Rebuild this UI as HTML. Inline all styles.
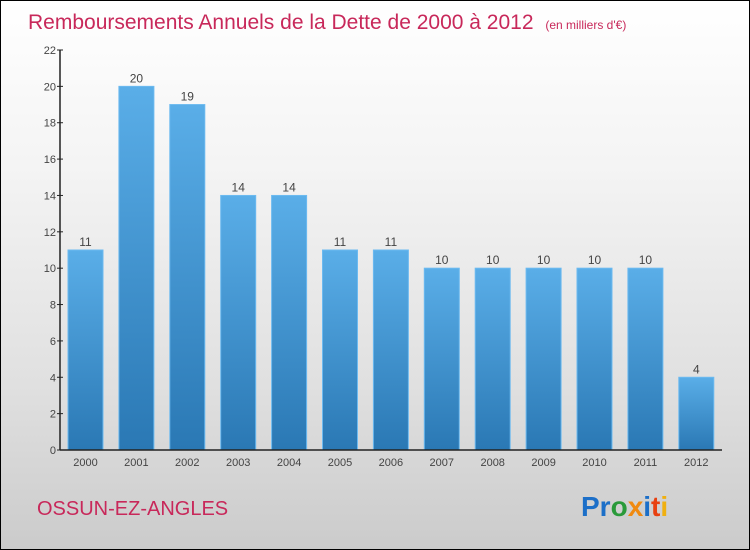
<!DOCTYPE html>
<html><head><meta charset="utf-8"><style>
body{margin:0;}
#wrap{width:748px;height:548px;border:1px solid #000;background:linear-gradient(#fff,#f4f4f4 30%,#e0e0e0 70%,#cbcbcb);position:relative;overflow:hidden;font-family:"Liberation Sans",sans-serif;}
</style></head><body>
<div id="wrap">
<svg id="chart" width="748" height="548">
<defs><linearGradient id="bg" x1="0" y1="0" x2="0" y2="1"><stop offset="0" stop-color="#5aaee8"/><stop offset="1" stop-color="#2a78b4"/></linearGradient></defs>
<text x="27" y="28" font-size="21" fill="#c8285a">Remboursements Annuels de la Dette de 2000 à 2012 <tspan font-size="12" dx="6">(en milliers d'€)</tspan></text>
<g id="bars"></g>
<g id="axes"></g>
<text x="36" y="514" font-size="20" fill="#c8285a">OSSUN-EZ-ANGLES</text>
<text x="580" y="515" font-size="28" font-weight="bold"><tspan fill="#1c6fc8">Pr</tspan><tspan fill="#2a9a3a">o</tspan><tspan fill="#f08a10">x</tspan><tspan fill="#1c6fc8">i</tspan><tspan fill="#e84010">t</tspan><tspan fill="#f0b010">i</tspan></text>
</svg></div>
<script>
const years=["2000","2001","2002","2003","2004","2005","2006","2007","2008","2009","2010","2011","2012"];
const values=[11,20,19,14,14,11,11,10,10,10,10,10,4];
const yTicks=[0,2,4,6,8,10,12,14,16,18,20,22];
const NS="http://www.w3.org/2000/svg";
const y0=449,yTop=49,yMax=22,x0=59,xEnd=721,barW=35,step=50.9,firstX=67;
const yS=v=>y0-(v/yMax)*(y0-yTop);
const xS=i=>firstX+i*step;
function mk(t,a,p){const e=document.createElementNS(NS,t);for(const k in a)e.setAttribute(k,a[k]);p.appendChild(e);return e;}
const bars=document.getElementById('bars'),axes=document.getElementById('axes');
values.forEach((v,i)=>{
 const r=mk('rect',{x:xS(i),y:yS(v),width:barW,height:y0-yS(v),fill:'url(#bg)',stroke:'#6cbaf0','stroke-width':1},bars);
 
 
 const t=mk('text',{x:xS(i)+barW/2,y:yS(v)-4,'text-anchor':'middle','font-size':12,fill:'#444'},bars);t.textContent=v;
 
 
 const xl=mk('text',{x:xS(i)+barW/2,y:y0+16,'text-anchor':'middle','font-size':11,fill:'#444'},axes);xl.textContent=years[i];
 
 
});
const ya=mk('line',{x1:x0,y1:yTop,x2:x0,y2:y0,stroke:'#222','stroke-width':1.5},axes);


const xa=mk('line',{x1:x0,y1:y0,x2:xEnd,y2:y0,stroke:'#222','stroke-width':1.5},axes);


yTicks.forEach(v=>{
 mk('line',{x1:x0-3,y1:yS(v),x2:x0+3,y2:yS(v),stroke:'#222'},axes);
 const t=mk('text',{x:x0-4,y:yS(v)+4,'text-anchor':'end','font-size':11,fill:'#444'},axes);t.textContent=v;
 
 
});
</script>
</body></html>
